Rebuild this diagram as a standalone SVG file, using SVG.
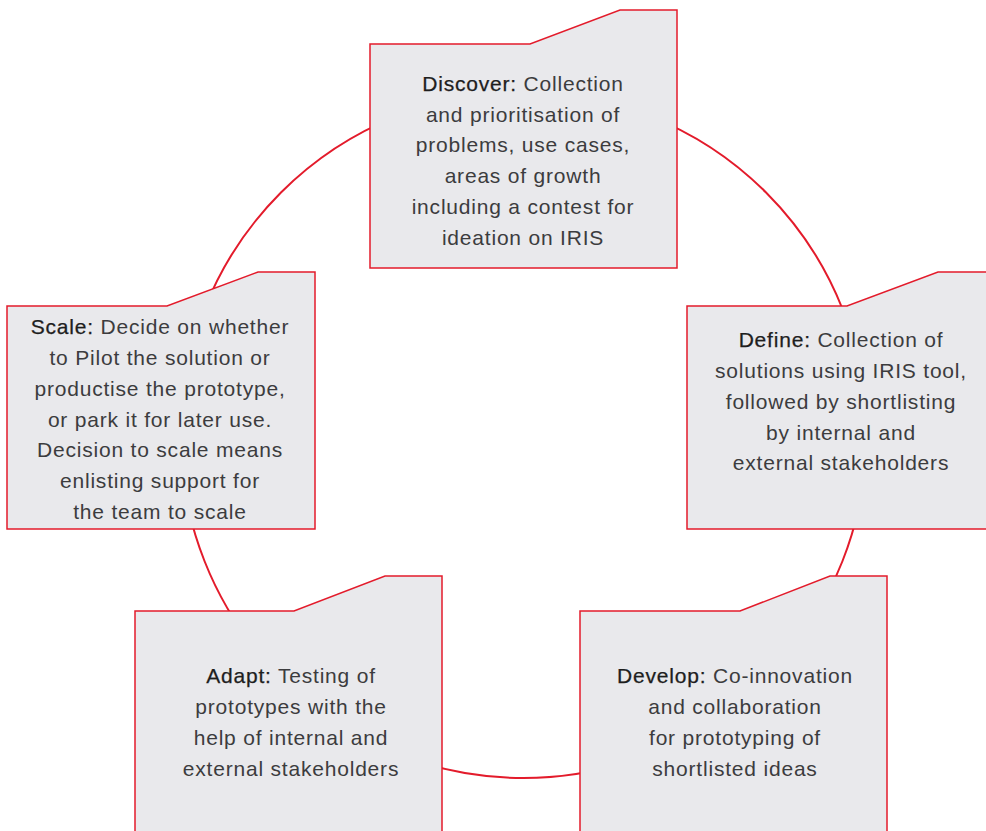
<svg xmlns="http://www.w3.org/2000/svg" width="986" height="831" viewBox="0 0 986 831">
<style>
.box{fill:#e9e9ec;stroke:#e31b2b;stroke-width:1.5;stroke-linejoin:miter}
.ring{fill:none;stroke:#e31b2b;stroke-width:2}
text{font-family:"Liberation Sans",Arial,sans-serif;font-size:21px;letter-spacing:0.8px;fill:#3c3c3e;text-anchor:middle}
.h{fill:#1e1e1e;stroke:#1e1e1e;stroke-width:0.25}
</style>
<rect width="986" height="831" fill="#ffffff"/>
<g id="connectors">
<circle class="ring" cx="523.5" cy="435" r="343"/>
</g>
<g id="discover">
<polygon class="box" points="370,44 530,44 620,10 677,10 677,268 370,268"/>
<text x="523" y="91"><tspan class="h">Discover:</tspan> Collection</text>
<text x="523" y="122">and prioritisation of</text>
<text x="523" y="152">problems, use cases,</text>
<text x="523" y="183">areas of growth</text>
<text x="523" y="214">including a contest for</text>
<text x="523" y="245">ideation on IRIS</text>
</g>
<g id="define">
<polygon class="box" points="687,306 847,306 938,272 992,272 992,529 687,529"/>
<text x="841" y="347"><tspan class="h">Define:</tspan> Collection of</text>
<text x="841" y="378">solutions using IRIS tool,</text>
<text x="841" y="409">followed by shortlisting</text>
<text x="841" y="440">by internal and</text>
<text x="841" y="470">external stakeholders</text>
</g>
<g id="develop">
<polygon class="box" points="580,611 740,611 830,576 887,576 887,840 580,840"/>
<text x="735" y="683"><tspan class="h">Develop:</tspan> Co-innovation</text>
<text x="735" y="714">and collaboration</text>
<text x="735" y="745">for prototyping of</text>
<text x="735" y="776">shortlisted ideas</text>
</g>
<g id="adapt">
<polygon class="box" points="135,611 294,611 385,576 442,576 442,840 135,840"/>
<text x="291" y="683"><tspan class="h">Adapt:</tspan> Testing of</text>
<text x="291" y="714">prototypes with the</text>
<text x="291" y="745">help of internal and</text>
<text x="291" y="776">external stakeholders</text>
</g>
<g id="scale">
<polygon class="box" points="7,306 167,306 258,272 315,272 315,529 7,529"/>
<text x="160" y="334"><tspan class="h">Scale:</tspan> Decide on whether</text>
<text x="160" y="365">to Pilot the solution or</text>
<text x="160" y="396">productise the prototype,</text>
<text x="160" y="427">or park it for later use.</text>
<text x="160" y="457">Decision to scale means</text>
<text x="160" y="488">enlisting support for</text>
<text x="160" y="519">the team to scale</text>
</g>
</svg>
